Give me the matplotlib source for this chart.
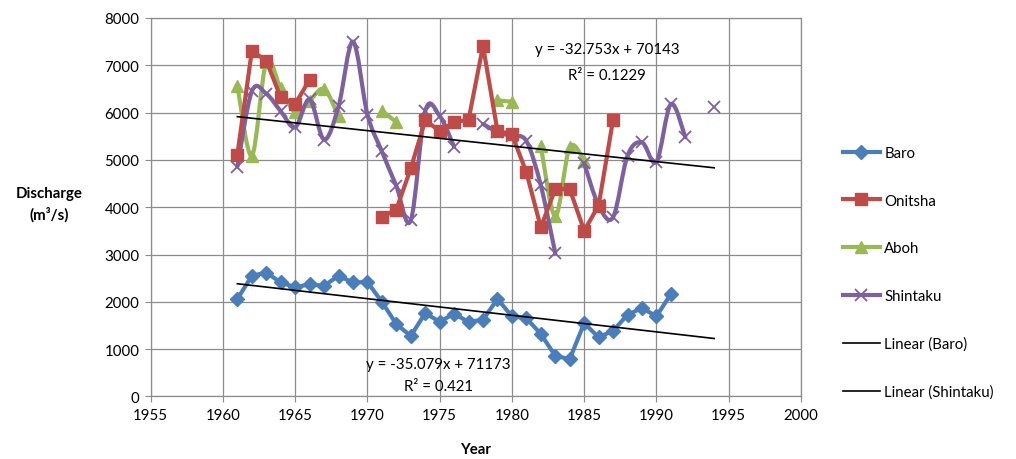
import numpy as np
import matplotlib
matplotlib.use('Agg')
import matplotlib.pyplot as plt
from matplotlib.path import Path
from matplotlib.patches import PathPatch
from matplotlib.lines import Line2D

plt.rcParams['font.family'] = ['Lato', 'DejaVu Sans']

# annual discharge (m3/s), nan = missing year
years = np.arange(1961, 1995)
baro = [2060, 2550, 2620, 2410, 2310, 2370, 2340, 2550, 2410, 2420,
        2000, 1530, 1280, 1760, 1580, 1750, 1575, 1625, 2060, 1695,
        1655, 1320, 860, 790, 1550, 1250, 1390, 1725, 1870, 1695,
        2165, np.nan, np.nan, np.nan]
onitsha = [5110, 7300, 7100, 6320, 6180, 6700, np.nan, np.nan, np.nan, np.nan,
           3800, 3950, 4820, 5840, 5610, 5800, 5850, 7410, 5610, 5540,
           4740, 3575, 4385, 4385, 3505, 4035, 5850, np.nan, np.nan, np.nan,
           np.nan, np.nan, np.nan, np.nan]
aboh = [6570, 5090, 7060, 6510, 6020, 6250, 6500, 5920, np.nan, np.nan,
        6040, 5800, np.nan, np.nan, np.nan, np.nan, np.nan, np.nan, 6260, 6230,
        np.nan, 5290, 3810, 5270, 4980, np.nan, np.nan, np.nan, np.nan, np.nan,
        np.nan, np.nan, np.nan, np.nan]
shintaku = [4860, 6450, 6400, 6030, 5690, 6280, 5430, 6130, 7500, 5960,
            5180, 4450, 3720, 6030, 5930, 5280, np.nan, 5760, 5590, 5500,
            5400, 4460, 3030, np.nan, 4930, 4040, 3790, 5090, 5370, 4960,
            6180, 5480, np.nan, 6110]

# Excel trendline coefficients
baro_fit = (-35.079, 71173)
shin_fit = (-32.753, 70143)
trend_x = [1961, 1994]

blue = '#4A7EBB'
red = '#BE4B48'
green = '#98B954'
purple = '#7D60A0'
grid_c = '#8C8C8C'
fs = 10.8


def smooth_path(x, y):
    # catmull-rom style bezier through each unbroken run of points
    x = np.asarray(x, float)
    y = np.asarray(y, float)
    verts, codes = [], []
    ok = ~np.isnan(y)
    i = 0
    n = len(y)
    while i < n:
        if not ok[i]:
            i += 1
            continue
        j = i
        while j < n and ok[j]:
            j += 1
        px, py = x[i:j], y[i:j]
        m = len(px)
        if m > 1:
            verts.append((px[0], py[0]))
            codes.append(Path.MOVETO)
            for k in range(m - 1):
                k0 = max(k - 1, 0)
                k3 = min(k + 2, m - 1)
                c1 = (px[k] + (px[k + 1] - px[k0]) / 6, py[k] + (py[k + 1] - py[k0]) / 6)
                c2 = (px[k + 1] - (px[k3] - px[k]) / 6, py[k + 1] - (py[k3] - py[k]) / 6)
                verts += [c1, c2, (px[k + 1], py[k + 1])]
                codes += [Path.CURVE4] * 3
        i = j
    return Path(verts, codes)


fig = plt.figure(figsize=(10.16, 4.6), dpi=100)
ax = fig.add_axes([0.1483, 0.1359, 0.6400, 0.8228])

ax.set_xlim(1955, 2000)
ax.set_ylim(0, 8000)
ax.set_xticks(np.arange(1955, 2001, 5))
ax.set_yticks(np.arange(0, 8001, 1000))
ax.grid(True, color=grid_c, lw=0.9)
ax.set_axisbelow(True)
for s in ax.spines.values():
    s.set_color(grid_c)
    s.set_linewidth(0.9)
ax.tick_params(direction='out', length=4, color=grid_c, labelsize=fs, pad=4)

lw = 3.0
# Baro and Onitsha: straight segments
ax.plot(years, baro, color=blue, lw=lw, marker='D', ms=7.5, zorder=3)

# Aboh and Shintaku: smoothed lines
ax.add_patch(PathPatch(smooth_path(years, aboh), fill=False, edgecolor=green,
                       lw=lw, capstyle='round', joinstyle='round', zorder=3))
ax.plot(years, aboh, ls='none', color=green, marker='^', ms=9, zorder=3)
ax.add_patch(PathPatch(smooth_path(years, shintaku), fill=False, edgecolor=purple,
                       lw=lw, capstyle='round', joinstyle='round', zorder=3))
ax.plot(years, shintaku, ls='none', color=purple, marker='x', ms=8, mew=1.3, zorder=3)
ax.plot(years, onitsha, color=red, lw=lw, marker='s', ms=8, zorder=3)

# linear trends
tx = np.array(trend_x, float)
ax.plot(tx, baro_fit[0] * tx + baro_fit[1], color='black', lw=1.2, zorder=4)
ax.plot(tx, shin_fit[0] * tx + shin_fit[1], color='black', lw=1.2, zorder=4)

ax.text(1986.6, 7350, 'y = -32.753x + 70143', ha='center', va='center', fontsize=fs)
ax.text(1986.6, 6800, 'R² = 0.1229', ha='center', va='center', fontsize=fs)
ax.text(1974.9, 690, 'y = -35.079x + 71173', ha='center', va='center', fontsize=fs)
ax.text(1974.9, 225, 'R² = 0.421', ha='center', va='center', fontsize=fs)

ax.set_xlabel('Year', fontsize=fs, fontweight='bold', labelpad=15)
fig.text(49 / 1016, 1 - 205 / 460, 'Discharge\n(m³/s)', ha='center', va='center',
         fontsize=fs, fontweight='bold', linespacing=1.45)

handles = [
    Line2D([], [], color=blue, lw=lw, marker='D', ms=7.5),
    Line2D([], [], color=red, lw=lw, marker='s', ms=8),
    Line2D([], [], color=green, lw=lw, marker='^', ms=9),
    Line2D([], [], color=purple, lw=lw, marker='x', ms=8, mew=1.3),
    Line2D([], [], color='black', lw=1.2),
    Line2D([], [], color='black', lw=1.2),
]
labels = ['Baro', 'Onitsha', 'Aboh', 'Shintaku', 'Linear (Baro)', 'Linear (Shintaku)']
fig.legend(handles, labels, loc='center left', bbox_to_anchor=(843 / 1016, 1 - 273.5 / 460),
           frameon=False, fontsize=fs, labelspacing=2.25, handlelength=2.45,
           handletextpad=0.3, borderpad=0, borderaxespad=0)

fig.savefig('out.png', dpi=100)
